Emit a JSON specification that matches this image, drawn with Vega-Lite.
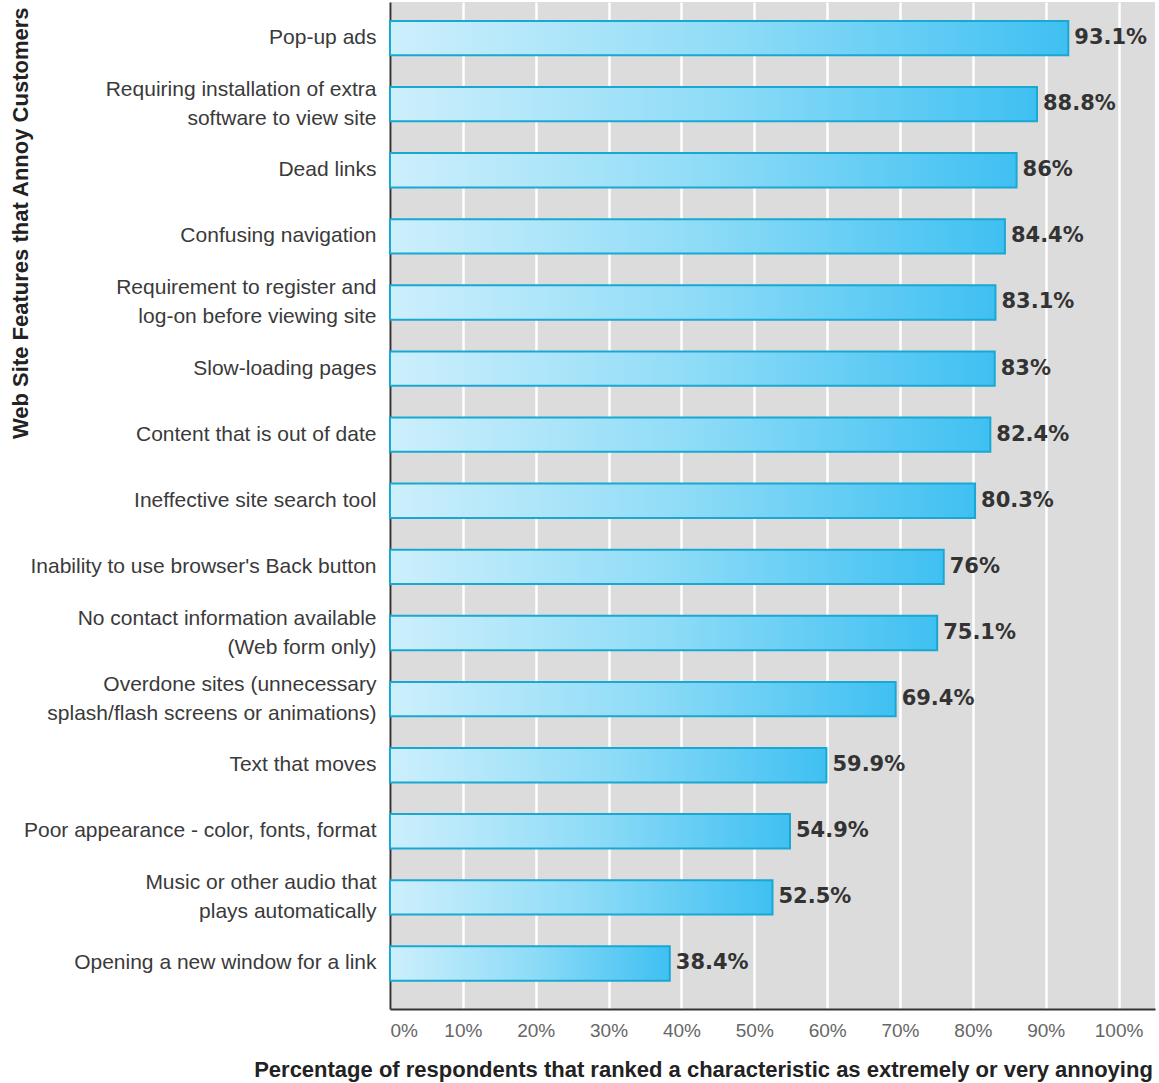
{
  "$schema": "https://vega.github.io/schema/vega-lite/v6.json",
  "width": 765,
  "height": 1007,
  "autosize": {"type": "none"},
  "padding": {"left": 390, "top": 2, "right": 4, "bottom": 74},
  "background": "white",
  "config": {"view": {"fill": "#dcdcdc", "stroke": null}},
  "data": {"values": [
    {"feature": "Pop-up ads", "value": 0.931},
    {"feature": "Requiring installation of extra|software to view site", "value": 0.888},
    {"feature": "Dead links", "value": 0.86},
    {"feature": "Confusing navigation", "value": 0.844},
    {"feature": "Requirement to register and|log-on before viewing site", "value": 0.831},
    {"feature": "Slow-loading pages", "value": 0.83},
    {"feature": "Content that is out of date", "value": 0.824},
    {"feature": "Ineffective site search tool", "value": 0.803},
    {"feature": "Inability to use browser's Back button", "value": 0.76},
    {"feature": "No contact information available|(Web form only)", "value": 0.751},
    {"feature": "Overdone sites (unnecessary|splash/flash screens or animations)", "value": 0.694},
    {"feature": "Text that moves", "value": 0.599},
    {"feature": "Poor appearance - color, fonts, format", "value": 0.549},
    {"feature": "Music or other audio that|plays automatically", "value": 0.525},
    {"feature": "Opening a new window for a link", "value": 0.384}
  ]},
  "encoding": {
    "y": {
      "field": "feature", "type": "nominal", "sort": null,
      "scale": {"paddingInner": 0.48, "paddingOuter": 0.357, "align": 0.4},
      "axis": {
        "labelExpr": "split(datum.label, '|')",
        "labelOffset": {"condition": {"test": "indexof(datum.value, '|') >= 0", "value": -14}, "value": 0},
        "labelFont": "Liberation Sans", "labelFontSize": 21, "labelColor": "#3a3a3a",
        "labelLineHeight": 29, "labelLimit": 0, "labelPadding": 14,
        "ticks": false, "grid": false,
        "domain": true, "domainColor": "#333333", "domainWidth": 2,
        "title": "Web Site Features that Annoy Customers",
        "titleFont": "Liberation Sans", "titleFontSize": 22, "titleFontWeight": "bold", "titleColor": "#222222",
        "titleAngle": -90, "titleX": -370, "titleY": 5, "titleAlign": "right", "titleBaseline": "middle"
      }
    },
    "x": {
      "field": "value", "type": "quantitative",
      "scale": {"domain": [0, 1.05], "nice": false},
      "axis": {
        "values": [0, 0.1, 0.2, 0.3, 0.4, 0.5, 0.6, 0.7, 0.8, 0.9, 1.0],
        "format": "~%",
        "labelFont": "Liberation Sans", "labelFontSize": 19, "labelColor": "#666666", "labelPadding": 12,
        "ticks": false,
        "grid": true, "gridColor": "white", "gridWidth": 2.5,
        "domain": true, "domainColor": "#333333", "domainWidth": 2,
        "title": "Percentage of respondents that ranked a characteristic as extremely or very annoying",
        "titleFont": "Liberation Sans", "titleFontSize": 22, "titleFontWeight": "bold", "titleColor": "#222222",
        "titleX": 313, "titleY": 60, "titleAlign": "center", "titleBaseline": "middle"
      }
    }
  },
  "layer": [
    {
      "mark": {
        "type": "bar",
        "color": {"gradient": "linear", "x1": 0, "y1": 0, "x2": 1, "y2": 0,
          "stops": [{"offset": 0, "color": "#cdeffc"}, {"offset": 0.5, "color": "#8fdcf7"}, {"offset": 1, "color": "#3fc0f2"}]},
        "stroke": "#19a8d2", "strokeWidth": 2
      }
    },
    {
      "mark": {"type": "text", "align": "left", "baseline": "middle", "dx": 6, "font": "DejaVu Sans", "fontWeight": "bold", "fontSize": 21, "color": "#333333"},
      "encoding": {"text": {"field": "value", "type": "quantitative", "format": ".1~%"}}
    }
  ]
}
